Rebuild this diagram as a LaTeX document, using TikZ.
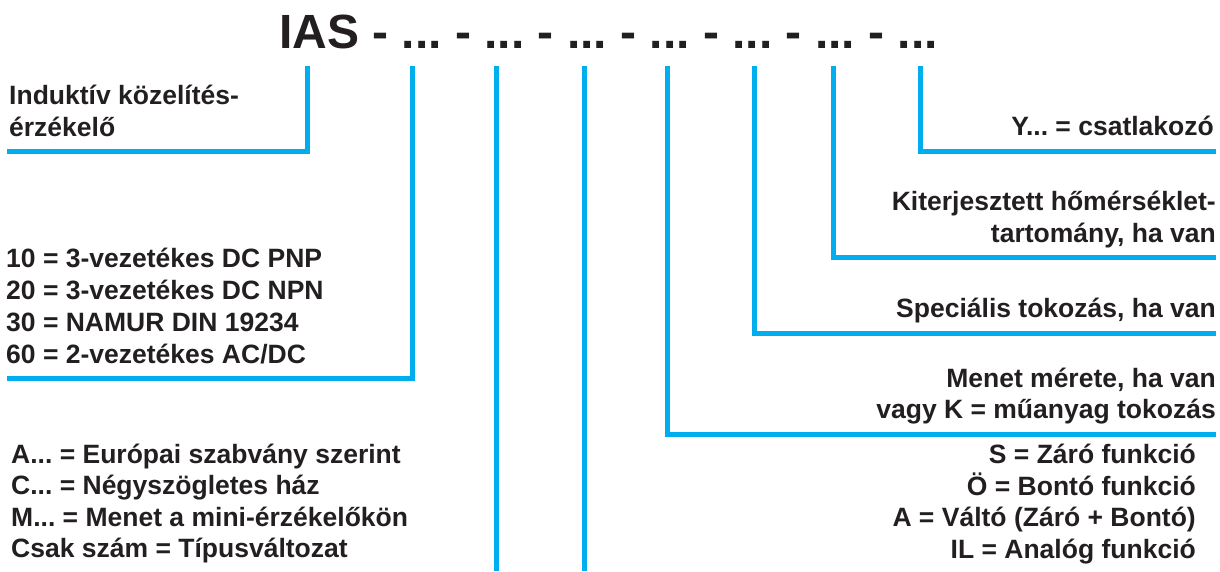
\documentclass[tikz,border=0pt]{standalone}
\usepackage{fontspec}
\setmainfont{Liberation Sans}
\definecolor{lineblue}{RGB}{0,174,239}
\definecolor{ink}{RGB}{35,31,32}
\begin{document}
\frenchspacing
\begin{tikzpicture}[x=1pt, y=-1pt, wire/.style = {draw=lineblue, line width=5pt},
		title/.style={inner sep=0pt, anchor=base west, text=ink, font=\fontsize{48}{57}\selectfont\bfseries},
		lefttext/.style={inner sep=0pt, anchor=base west, text=ink, font=\fontsize{26.5}{31}\selectfont\bfseries},
		righttext/.style={inner sep=0pt, anchor=base east, text=ink, font=\fontsize{26.5}{31}\selectfont\bfseries}]
		
		\useasboundingbox (0,0) rectangle (1220,571);
		
		\node[title] (ias) at (279,48) {IAS - ... - ... - ... - ... - ... - ... - ...};
		
		\coordinate (t1) at (307,66);
		\coordinate (t2) at (412,66);
		\coordinate (t3) at (496,66);
		\coordinate (t4) at (584,66);
		\coordinate (t5) at (667,66);
		\coordinate (t6) at (754,66);
		\coordinate (t7) at (833,66);
		\coordinate (t8) at (920,66);
		
		\coordinate (e1) at (7,151);
		\coordinate (e2) at (7,378);
		\coordinate (e3) at (496,571);
		\coordinate (e4) at (584,571);
		\coordinate (e5) at (1216,434);
		\coordinate (e6) at (1216,333);
		\coordinate (e7) at (1216,257);
		\coordinate (e8) at (1216,151);
		
		\draw[wire] (t1) |- (e1);
		\draw[wire] (t2) |- (e2);
		\draw[wire] (t3) to (e3);
		\draw[wire] (t4) to (e4);
		\draw[wire] (t5) |- (e5);
		\draw[wire] (t6) |- (e6);
		\draw[wire] (t7) |- (e7);
		\draw[wire] (t8) |- (e8);
		
		\node[lefttext] (ind1) at (9,104) {Induktív közelítés-};
		\node[lefttext] (ind2) at (9,136) {érzékelő};
		
		\node[lefttext] (out10) at (6,267) {10 = 3-vezetékes DC PNP};
		\node[lefttext] (out20) at (6,299) {20 = 3-vezetékes DC NPN};
		\node[lefttext] (out30) at (6,331) {30 = NAMUR DIN 19234};
		\node[lefttext] (out60) at (6,363) {60 = 2-vezetékes AC/DC};
		
		\node[lefttext] (typa) at (11,463) {A... = Európai szabvány szerint};
		\node[lefttext] (typc) at (11,494) {C... = Négyszögletes ház};
		\node[lefttext] (typm) at (11,526) {M... = Menet a mini-érzékelőkön};
		\node[lefttext] (typn) at (11,557) {Csak szám = Típusváltozat};
		
		\node[righttext] (plug) at (1214,135) {Y... = csatlakozó};
		
		\node[righttext] (temp1) at (1216,210) {Kiterjesztett hőmérséklet-};
		\node[righttext] (temp2) at (1216,242) {tartomány, ha van};
		
		\node[righttext] (case) at (1216,317) {Speciális tokozás, ha van};
		
		\node[righttext] (thread1) at (1216,387) {Menet mérete, ha van};
		\node[righttext] (thread2) at (1216,418) {vagy K = műanyag tokozás};
		
		\node[righttext] (funs) at (1196,463) {S = Záró funkció};
		\node[righttext] (funo) at (1196,495) {Ö = Bontó funkció};
		\node[righttext] (funa) at (1196,526) {A = Váltó (Záró + Bontó)};
		\node[righttext] (funil) at (1196,558) {IL = Analóg funkció};
		
	\end{tikzpicture}
\end{document}
